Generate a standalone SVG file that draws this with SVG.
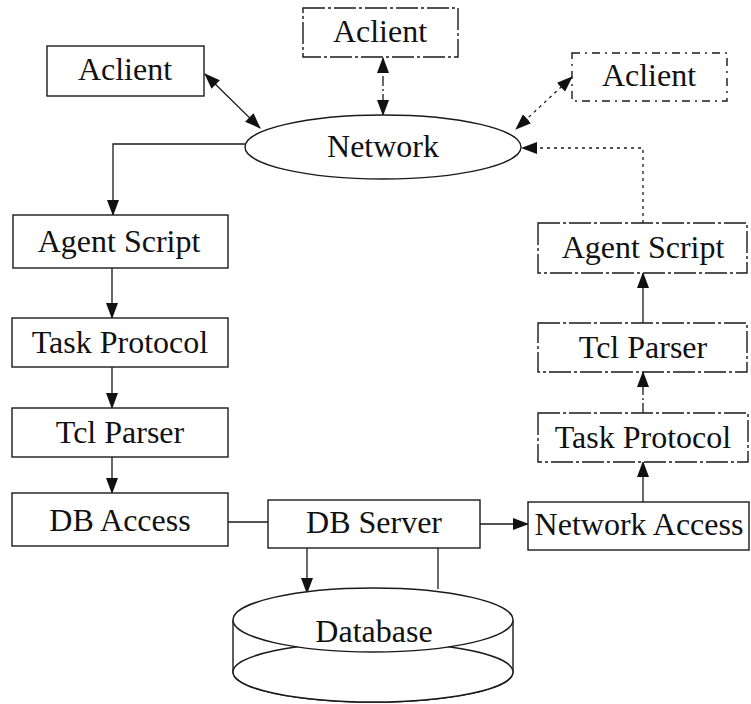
<svg xmlns="http://www.w3.org/2000/svg" width="751" height="704" viewBox="0 0 751 704">
  <style>
    .box { fill: #ffffff; stroke: #1a1a1a; stroke-width: 1.4; }
    .dash { stroke-dasharray: 22 3 3 3; }
    .dot { stroke-dasharray: 8 5 2 5; }
    .lbl { font-family: "Liberation Serif", "Times New Roman", serif; font-size: 32px; fill: #111111; text-anchor: middle; }
    .wire { fill: none; stroke: #1a1a1a; stroke-width: 1.3; }
    .wire-dash { stroke-dasharray: 10 3 2 3; }
    .wire-dot { stroke-dasharray: 3 4; }
  </style>
  <defs>
    <marker id="head" markerUnits="userSpaceOnUse" markerWidth="16" markerHeight="12" viewBox="0 0 16 12" refX="15" refY="6" orient="auto-start-reverse">
      <path d="M0,0 L16,6 L0,12 Z" fill="#111111"/>
    </marker>
  </defs>

  <rect width="751" height="704" fill="#ffffff"/>

  <!-- connectors -->
  <g id="connectors">
    <!-- clients to network -->
    <line class="wire" x1="205" y1="74" x2="260" y2="128" marker-start="url(#head)" marker-end="url(#head)"/>
    <line class="wire wire-dash" x1="383" y1="58" x2="383" y2="115" marker-start="url(#head)" marker-end="url(#head)"/>
    <line class="wire wire-dot" x1="572" y1="77" x2="516" y2="129" marker-start="url(#head)" marker-end="url(#head)"/>
    <!-- network down the left column -->
    <path class="wire" d="M245,144 H113 V215" marker-end="url(#head)"/>
    <line class="wire" x1="112" y1="268" x2="112" y2="318" marker-end="url(#head)"/>
    <line class="wire" x1="112" y1="367" x2="112" y2="408" marker-end="url(#head)"/>
    <line class="wire" x1="112" y1="457" x2="112" y2="493" marker-end="url(#head)"/>
    <!-- database tier -->
    <line class="wire" x1="228" y1="522" x2="268" y2="522"/>
    <line class="wire" x1="480" y1="524" x2="528" y2="524" marker-end="url(#head)"/>
    <line class="wire" x1="307" y1="548" x2="307" y2="593" marker-end="url(#head)"/>
    <line class="wire" x1="438" y1="548" x2="438" y2="589"/>
    <!-- right column back up to network -->
    <line class="wire" x1="643" y1="502" x2="643" y2="462" marker-end="url(#head)"/>
    <line class="wire wire-dash" x1="643" y1="413" x2="643" y2="372" marker-end="url(#head)"/>
    <line class="wire" x1="643" y1="323" x2="643" y2="273" marker-end="url(#head)"/>
    <path class="wire wire-dot" d="M643,223 V148 H522" marker-end="url(#head)"/>
  </g>

  <!-- clients -->
  <g id="client-left">
    <rect class="box" x="47" y="46" width="157" height="50"/>
    <text class="lbl" x="125" y="80">Aclient</text>
  </g>
  <g id="client-top">
    <rect class="box dash" x="303" y="8" width="155" height="49"/>
    <text class="lbl" x="380" y="42">Aclient</text>
  </g>
  <g id="client-right">
    <rect class="box dot" x="572" y="53" width="155" height="48"/>
    <text class="lbl" x="649" y="86">Aclient</text>
  </g>

  <!-- network -->
  <g id="network">
    <ellipse class="box" cx="383" cy="147" rx="138" ry="32"/>
    <text class="lbl" x="383" y="157">Network</text>
  </g>

  <!-- left column -->
  <g id="agent-script-left">
    <rect class="box" x="13" y="215" width="215" height="53"/>
    <text class="lbl" x="119" y="252">Agent Script</text>
  </g>
  <g id="task-protocol-left">
    <rect class="box" x="12" y="318" width="216" height="49"/>
    <text class="lbl" x="120" y="353">Task Protocol</text>
  </g>
  <g id="tcl-parser-left">
    <rect class="box" x="12" y="408" width="216" height="49"/>
    <text class="lbl" x="120" y="443">Tcl Parser</text>
  </g>
  <g id="db-access">
    <rect class="box" x="12" y="493" width="216" height="53"/>
    <text class="lbl" x="120" y="531">DB Access</text>
  </g>

  <!-- middle -->
  <g id="db-server">
    <rect class="box" x="268" y="500" width="212" height="48"/>
    <text class="lbl" x="374" y="533">DB Server</text>
  </g>
  <g id="database">
    <path class="box" d="M233,620 V672 A140,30 0 0 0 513,672 V620"/>
    <ellipse class="box" cx="373" cy="672" rx="140" ry="30" fill="none"/>
    <ellipse class="box" cx="373" cy="620" rx="140" ry="32" fill="none"/>
    <text class="lbl" x="374" y="642">Database</text>
  </g>

  <!-- right column -->
  <g id="network-access">
    <rect class="box" x="528" y="502" width="221" height="48"/>
    <text class="lbl" x="639" y="535">Network Access</text>
  </g>
  <g id="task-protocol-right">
    <rect class="box dash" x="538" y="413" width="210" height="49"/>
    <text class="lbl" x="643" y="448">Task Protocol</text>
  </g>
  <g id="tcl-parser-right">
    <rect class="box dash" x="538" y="323" width="209" height="49"/>
    <text class="lbl" x="643" y="358">Tcl Parser</text>
  </g>
  <g id="agent-script-right">
    <rect class="box dash" x="538" y="223" width="209" height="50"/>
    <text class="lbl" x="643" y="258">Agent Script</text>
  </g>
</svg>
